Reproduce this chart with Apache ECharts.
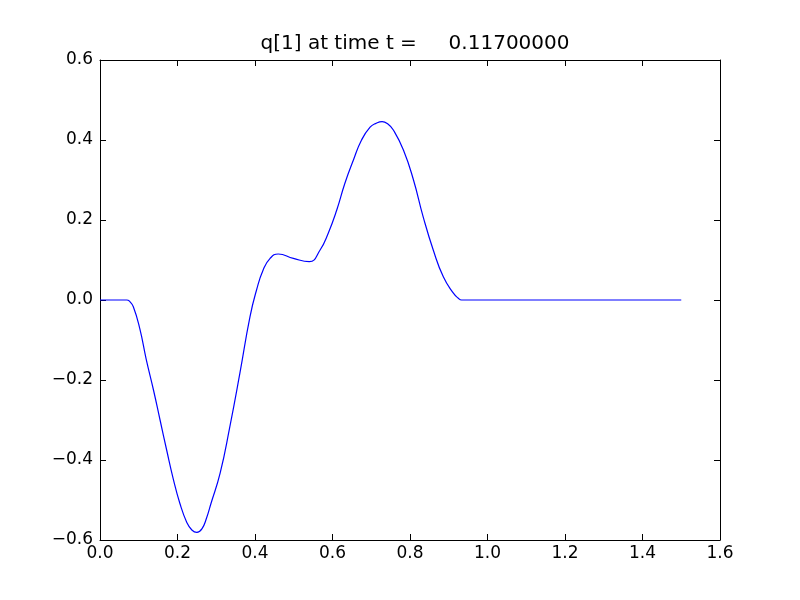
<!DOCTYPE html>
<html>
<head>
<meta charset="utf-8">
<script src="https://cdn.jsdelivr.net/npm/echarts@6/dist/echarts.min.js"></script>
<style>html,body{margin:0;padding:0;background:#fff;}#c{width:800px;height:600px;}</style>
</head>
<body>
<div id="c"></div>
<script>
var titleText = 'q[1] at time t =     0.11700000';
var xVals = [0.0, 0.04, 0.069, 0.076, 0.086, 0.103, 0.119, 0.138, 0.155, 0.172, 0.189, 0.206, 0.224, 0.237, 0.250, 0.263, 0.275, 0.286, 0.310, 0.335, 0.361, 0.387, 0.404, 0.421, 0.439, 0.460, 0.499, 0.540, 0.568, 0.589, 0.611, 0.632, 0.654, 0.675, 0.697, 0.713, 0.728, 0.743, 0.757, 0.783, 0.809, 0.834, 0.860, 0.886, 0.912, 0.924, 0.933, 1.0, 1.2, 1.5];
var yVals = [0.0, 0.0, 0.0, -0.003, -0.017, -0.073, -0.147, -0.225, -0.3, -0.375, -0.447, -0.508, -0.556, -0.575, -0.581, -0.572, -0.545, -0.510, -0.433, -0.317, -0.183, -0.042, 0.025, 0.075, 0.104, 0.115, 0.104, 0.096, 0.125, 0.167, 0.225, 0.292, 0.35, 0.4, 0.432, 0.442, 0.446, 0.440, 0.425, 0.375, 0.3, 0.208, 0.125, 0.058, 0.017, 0.005, 0.0, 0.0, 0.0, 0.0];
var xTicks = [0.0, 0.2, 0.4, 0.6, 0.8, 1.0, 1.2, 1.4, 1.6];
var yTicks = [-0.6, -0.4, -0.2, 0.0, 0.2, 0.4, 0.6];

var data = xVals.map(function (x, i) { return [x, yVals[i]]; });
var fmt = function (v) { return v.toFixed(1).replace('-', '\u2212'); };
var font = 'DejaVu Sans';
var chart = echarts.init(document.getElementById('c'), null, {renderer: 'canvas'});
var axisCommon = {
  type: 'value',
  axisLine: {show: true, onZero: false, lineStyle: {color: '#000', width: 1}},
  axisTick: {show: true, inside: true, length: 6, lineStyle: {color: '#000'}},
  splitLine: {show: false}
};
chart.setOption({
  animation: false,
  backgroundColor: '#fff',
  title: {
    text: titleText, left: 410, top: 29, textAlign: 'center',
    textStyle: {fontFamily: font, fontSize: 20, fontWeight: 'normal', color: '#000'}
  },
  grid: {left: 100, right: 80, top: 60, bottom: 60},
  xAxis: [
    Object.assign({}, axisCommon, {
      position: 'bottom', min: xTicks[0], max: xTicks[xTicks.length - 1], interval: 0.2,
      axisLabel: {fontFamily: font, fontSize: 17, color: '#000', margin: 5, formatter: fmt}
    }),
    Object.assign({}, axisCommon, {
      position: 'top', min: xTicks[0], max: xTicks[xTicks.length - 1], interval: 0.2,
      axisLabel: {show: false}
    })
  ],
  yAxis: [
    Object.assign({}, axisCommon, {
      position: 'left', min: yTicks[0], max: yTicks[yTicks.length - 1], interval: 0.2,
      axisLabel: {fontFamily: font, fontSize: 17, color: '#000', margin: 7, formatter: fmt}
    }),
    Object.assign({}, axisCommon, {
      position: 'right', min: yTicks[0], max: yTicks[yTicks.length - 1], interval: 0.2,
      axisLabel: {show: false}
    })
  ],
  series: [{
    type: 'line', data: data, xAxisIndex: 0, yAxisIndex: 0,
    showSymbol: false, smooth: 0.5,
    lineStyle: {color: '#0000ff', width: 1.2}
  }]
});
</script>
</body>
</html>
